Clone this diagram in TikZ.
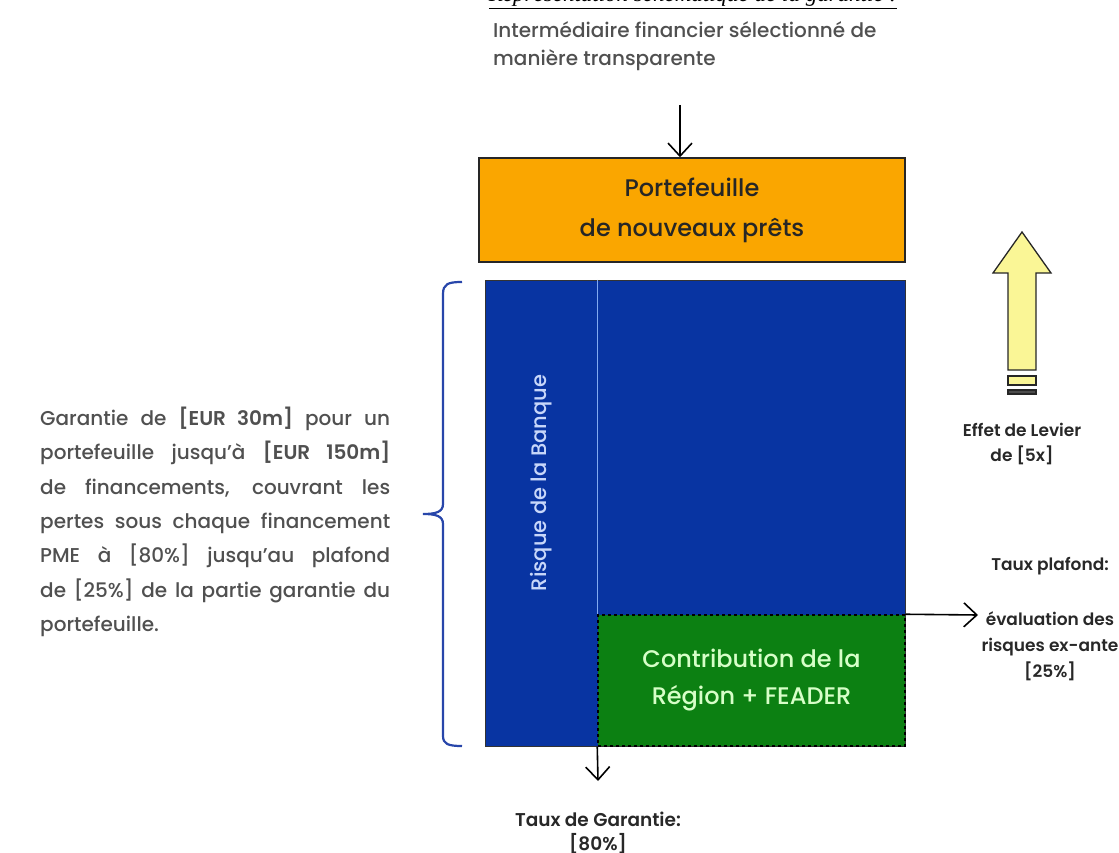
\documentclass[tikz,border=0pt]{standalone}
\usepackage{fontspec}
\setmainfont{Poppins}[UprightFont={* Medium}, BoldFont={* SemiBold}]
\newfontfamily\titlefont{Liberation Serif}
\usetikzlibrary{arrows.meta}

\definecolor{portforange}{RGB}{250,166,0}
\definecolor{bankblue}{RGB}{8,52,162}
\definecolor{regiongreen}{RGB}{12,128,18}
\definecolor{regiontext}{RGB}{215,255,200}
\definecolor{risktext}{RGB}{200,215,250}
\definecolor{sepblue}{RGB}{130,170,240}
\definecolor{braceblue}{RGB}{40,70,170}
\definecolor{levieryellow}{RGB}{250,246,150}
\definecolor{notegray}{RGB}{80,80,80}
\definecolor{labelgray}{RGB}{40,40,40}

\begin{document}
\begin{tikzpicture}[x=1pt, y=-1pt,
  >={Straight Barb[length=13pt,width=24pt]},
  flow/.style={->, line width=1.6pt, black},
  lbl/.style={font=\fontsize{17}{25}\selectfont\bfseries, text=labelgray, align=center, inner sep=0pt},
  note/.style={font=\fontsize{20}{28}\selectfont, text=notegray, align=left, inner sep=0pt},
  portf/.style={draw=black!85, line width=1.5pt, fill=portforange, minimum width=426pt, minimum height=104pt,
    align=center, font=\fontsize{24}{40}\selectfont, text=black!85},
  bank/.style={draw=black!80, line width=1pt, fill=bankblue, minimum width=420pt, minimum height=466pt, inner sep=0pt},
  region/.style={draw=black, dashed, line width=1.5pt, fill=regiongreen, minimum width=307pt, minimum height=131pt,
    align=center, font=\fontsize{24}{37}\selectfont, text=regiontext, inner sep=0pt},
  risk/.style={font=\fontsize{21}{24}\selectfont, text=risktext, inner sep=0pt},
  bracket/.style={draw=braceblue, line width=2.2pt},
  levier/.style={draw=black!85, line width=1.3pt, fill=levieryellow, line join=miter},
]
\useasboundingbox (0,0) rectangle (1119,853);

\node[anchor=base, inner sep=0pt, font=\titlefont\itshape\fontsize{23}{26}\selectfont] (titre) at (693,2)
  {\underline{Représentation schématique de la garantie :}};

\node[note, anchor=west] (interm) at (493,46) {Intermédiaire financier sélectionné de\\manière transparente};
\coordinate (entree) at (680,105);

\node[portf] (portf) at (692,210) {Portefeuille\\de nouveaux prêts};
\draw[flow] (entree) -- (entree |- portf.north);

\node[bank] (banque) at (695,513) {};
\node[region] (region) at (751.5,680.5) {Contribution de la\\Région + FEADER};
\draw[sepblue, line width=1pt] (banque.north -| region.west) -- (region.north west);
\node[risk, rotate=90] (risque) at (541,483) {Risque de la Banque};

% accolade
\coordinate (brTop) at (462,282);
\coordinate (brBot) at (462,746);
\draw[bracket] (brTop) .. controls (448,282) and (443,284) .. (443,294) -- (443,504)
  .. controls (443,512) and (436,514) .. (423,514) .. controls (436,514) and (443,516) .. (443,524)
  -- (443,736) .. controls (443,744) and (448,746) .. (brBot);

\node[note, anchor=north west, text width=350pt, align=justify, font=\fontsize{20}{34.3}\selectfont] (garantie) at (40,407)
  {Garantie de \textbf{[EUR 30m]} pour un\linebreak
   portefeuille jusqu'à \textbf{[EUR 150m]}\linebreak
   de financements, couvrant les\linebreak
   pertes sous chaque financement\linebreak
   PME à [80\%] jusqu'au plafond\linebreak
   de [25\%] de la partie garantie du\linebreak
   portefeuille.};

\coordinate (garTip) at (598,781);
\draw[flow] (region.south west) -- (garTip);
\node[lbl, font=\fontsize{18.5}{24}\selectfont\bfseries] (tauxGar) at (598,833) {Taux de Garantie:\\{[80\%]}};

\coordinate (plafTip) at (978,615);
\draw[flow] (region.north east) -- (plafTip);
\node[lbl] (plafHead) at (1050,566) {Taux plafond:};
\node[lbl, font=\fontsize{17}{26}\selectfont\bfseries] (plafBody) at (1050,646) {évaluation des\\risques ex-ante\\{[25\%]}};

% fleche levier
\draw[levier] (1022,232) -- (1051,273) -- (1036,273) -- (1036,370) -- (1008,370) -- (1008,273) -- (993,273) -- cycle;
\draw[levier] (1008,376) rectangle (1036,385);
\draw[levier, fill=black!70] (1008,390) rectangle (1036,394);
\node[lbl] (levierLbl) at (1022,444) {Effet de Levier\\de [5x]};
\end{tikzpicture}
\end{document}
